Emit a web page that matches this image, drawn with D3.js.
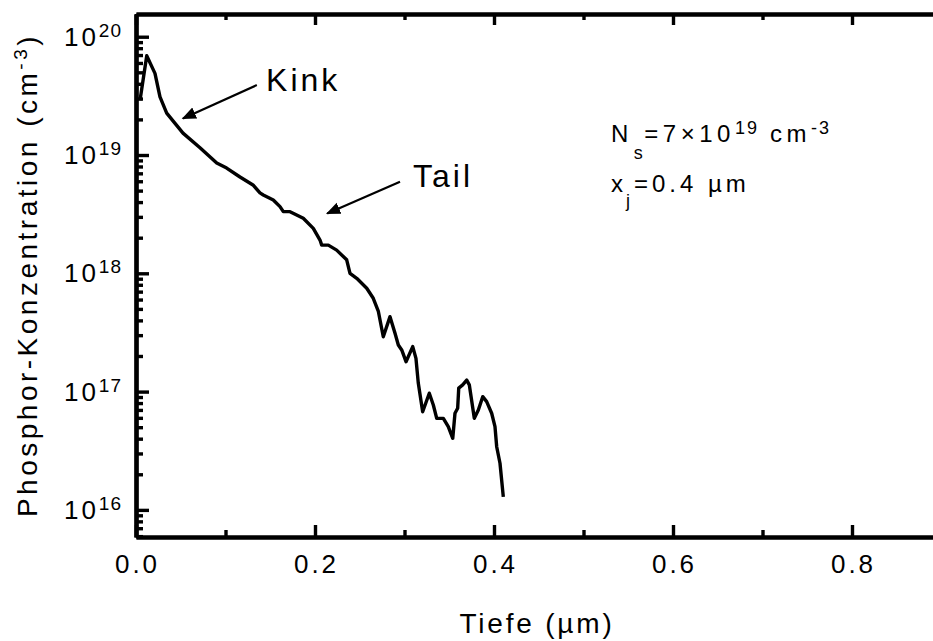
<!DOCTYPE html>
<html>
<head>
<meta charset="utf-8">
<script src="https://cdn.jsdelivr.net/npm/d3@7"></script>
<style>
    body { margin: 0; background: #fff; }
    svg { display: block; font-family: "Liberation Sans", Arial, sans-serif; }
</style>
</head>
<body>
<svg id="chart"></svg>
<script>
"use strict";

const width = 933;
const height = 641;

// plot frame (the right part of the frame runs past the picture)
const left = 136;
const right = 1031;
const top_y = 14;
const bottom = 537;

// Tiefe in µm
const depth = [
    0.0045, 0.012, 0.0212, 0.0268, 0.0343, 0.0525, 0.0715, 0.0902, 0.1013, 0.1162,
    0.1307, 0.1385, 0.1422, 0.1534, 0.1609, 0.1646, 0.1721, 0.1869, 0.1981, 0.2056,
    0.2075, 0.2149, 0.2242, 0.2354, 0.2391, 0.2466, 0.2578, 0.2651, 0.2707, 0.2763,
    0.2838, 0.2894, 0.2931, 0.2969, 0.3017, 0.3092, 0.3128, 0.3154, 0.3203, 0.3277,
    0.3322, 0.3360, 0.3434, 0.3489, 0.3539, 0.3564, 0.3594, 0.3606, 0.3650, 0.3695,
    0.3724, 0.3780, 0.3825, 0.3874, 0.3918, 0.3974, 0.4011, 0.4030, 0.4067, 0.4104
];

// Phosphor-Konzentration in cm^-3
const conc = [
    2.9e19, 6.9e19, 4.9e19, 3.1e19, 2.26e19, 1.53e19, 1.15e19, 8.55e18, 7.76e18, 6.52e18,
    5.58e18, 4.78e18, 4.59e18, 4.17e18, 3.66e18, 3.32e18, 3.32e18, 2.92e18, 2.40e18, 1.91e18,
    1.73e18, 1.73e18, 1.57e18, 1.30e18, 1.0e18, 9.08e17, 7.47e17, 6.15e17, 4.80e17, 2.91e17,
    4.30e17, 3.11e17, 2.48e17, 2.25e17, 1.79e17, 2.40e17, 1.91e17, 1.18e17, 6.76e16, 9.69e16,
    7.71e16, 5.94e16, 5.94e16, 5.05e16, 4.03e16, 6.56e16, 7.23e16, 1.07e17, 1.14e17, 1.25e17,
    1.14e17, 5.94e16, 6.98e16, 9.06e16, 8.22e16, 6.56e16, 5.05e16, 3.42e16, 2.48e16, 1.29e16
];

const x_ticks = [0.0, 0.2, 0.4, 0.6, 0.8, 1.0];
const x_labels = [0.0, 0.2, 0.4, 0.6, 0.8];
const x_minor = [0.1, 0.3, 0.5, 0.7, 0.9];
const y_exponents = [16, 17, 18, 19, 20];
const y_mults = [2, 3, 4, 5, 6, 7, 8, 9];

const x_domain = [0, 1];
const y_domain = [5.9e15, 1.556e20];

// annotations, in data units
const arrows = [
    { from: [0.135, 3.9e19], to: [0.0525, 2.04e19] },
    { from: [0.295, 5.95e18], to: [0.2137, 3.21e18] }
];
const labels = [
    { text: "Kink", at: [0.1453, 3.48e19] },
    { text: "Tail", at: [0.3095, 5.4e18] }
];

function genChart() {
    const x_scale = d3.scaleLinear()
        .domain(x_domain)
        .range([left, right]);

    const y_scale = d3.scaleLog()
        .domain(y_domain)
        .range([bottom, top_y]);

    const svg = d3.select("#chart")
        .attr("width", width)
        .attr("height", height);

    svg.append("defs").append("marker")
        .attr("id", "head")
        .attr("viewBox", "0 0 10 10")
        .attr("refX", 9)
        .attr("refY", 5)
        .attr("markerWidth", 6.5)
        .attr("markerHeight", 6.5)
        .attr("markerUnits", "strokeWidth")
        .attr("orient", "auto")
        .append("path")
        .attr("d", "M0,0.8 L10,5 L0,9.2 Z")
        .attr("fill", "#000");

    // curve
    const line = d3.line()
        .x((d, i) => x_scale(depth[i]))
        .y((d, i) => y_scale(conc[i]));

    svg.append("path")
        .datum(conc)
        .attr("d", line)
        .attr("fill", "none")
        .attr("stroke", "#000")
        .attr("stroke-width", 3.4)
        .attr("stroke-linejoin", "round");

    // axes, ticks point into the plot
    const styleAxis = g => {
        g.selectAll("path").attr("stroke-width", 4.2).attr("stroke", "#000");
        g.selectAll("line").attr("stroke-width", 3.4).attr("stroke", "#000");
        g.selectAll("text").remove();
    };

    // minor ticks of the log axis: 2..9 times each decade inside the domain
    const y_minor = [];
    for (let e = 15; e <= 20; e++) {
        y_mults.forEach(m => {
            const v = m * Math.pow(10, e);
            if (v >= y_domain[0] && v <= y_domain[1]) y_minor.push(v);
        });
    }
    const y_major = y_exponents.map(e => Math.pow(10, e));

    svg.append("g")
        .attr("transform", `translate(${left}, 0)`)
        .call(d3.axisLeft(y_scale).tickValues(y_minor).tickSize(-7).tickSizeOuter(0))
        .call(styleAxis);
    svg.append("g")
        .attr("transform", `translate(${left}, 0)`)
        .call(d3.axisLeft(y_scale).tickValues(y_major).tickSize(-13).tickSizeOuter(0))
        .call(styleAxis);

    svg.append("g")
        .attr("transform", `translate(0, ${bottom})`)
        .call(d3.axisBottom(x_scale).tickValues(x_minor).tickSize(-7).tickSizeOuter(0))
        .call(styleAxis);
    svg.append("g")
        .attr("transform", `translate(0, ${bottom})`)
        .call(d3.axisBottom(x_scale).tickValues(x_ticks).tickSize(-12).tickSizeOuter(0))
        .call(styleAxis);

    svg.append("g")
        .attr("transform", `translate(0, ${top_y})`)
        .call(d3.axisTop(x_scale).tickValues(x_minor).tickSize(-6).tickSizeOuter(0))
        .call(styleAxis);
    svg.append("g")
        .attr("transform", `translate(0, ${top_y})`)
        .call(d3.axisTop(x_scale).tickValues(x_ticks).tickSize(-11).tickSizeOuter(0))
        .call(styleAxis);

    // x tick labels
    svg.append("g")
        .selectAll("text")
        .data(x_labels)
        .enter()
        .append("text")
        .attr("x", d => x_scale(d) + 1.5)
        .attr("y", bottom + 36)
        .attr("text-anchor", "middle")
        .attr("font-size", 26)
        .attr("letter-spacing", 3)
        .text(d => d.toFixed(1));

    // y tick labels 10^n
    const ylab = svg.append("g")
        .selectAll("text")
        .data(y_exponents)
        .enter()
        .append("text")
        .attr("x", left - 14)
        .attr("y", d => y_scale(Math.pow(10, d)) + 9)
        .attr("text-anchor", "end")
        .attr("font-size", 26)
        .attr("letter-spacing", 3);
    ylab.append("tspan").text("10");
    ylab.append("tspan")
        .attr("font-size", 19)
        .attr("dy", -9)
        .attr("letter-spacing", 1)
        .text(d => d);

    // axis titles
    svg.append("text")
        .attr("x", 537)
        .attr("y", 633)
        .attr("text-anchor", "middle")
        .attr("font-size", 28)
        .attr("letter-spacing", 2.8)
        .text("Tiefe (µm)");

    const ytitle = svg.append("text")
        .attr("transform", "translate(37, 275) rotate(-90)")
        .attr("text-anchor", "middle")
        .attr("font-size", 28)
        .attr("letter-spacing", 3.5);
    ytitle.append("tspan").text("Phosphor-Konzentration (cm");
    ytitle.append("tspan").attr("font-size", 19).attr("dy", -10).text("-3");
    ytitle.append("tspan").attr("dy", 10).text(")");

    // arrows and labels
    svg.append("g")
        .selectAll("line")
        .data(arrows)
        .enter()
        .append("line")
        .attr("x1", d => x_scale(d.from[0]))
        .attr("y1", d => y_scale(d.from[1]))
        .attr("x2", d => x_scale(d.to[0]))
        .attr("y2", d => y_scale(d.to[1]))
        .attr("stroke", "#000")
        .attr("stroke-width", 2.2)
        .attr("marker-end", "url(#head)");

    svg.append("g")
        .selectAll("text")
        .data(labels)
        .enter()
        .append("text")
        .attr("x", d => x_scale(d.at[0]))
        .attr("y", d => y_scale(d.at[1]))
        .attr("font-size", 32)
        .attr("letter-spacing", 3)
        .text(d => d.text);

    // parameters
    const ns = svg.append("text")
        .attr("x", x_scale(0.5307))
        .attr("y", y_scale(1.29e19))
        .attr("font-size", 24)
        .attr("letter-spacing", 4.5);
    ns.append("tspan").text("N");
    ns.append("tspan").attr("dx", 1).attr("dy", 17).attr("font-size", 18).text("s");
    ns.append("tspan").attr("dx", -3).attr("dy", -17).text("=7×10");
    ns.append("tspan").attr("dy", -8).attr("font-size", 18).attr("letter-spacing", 2).text("19");
    ns.append("tspan").attr("dy", 8).text(" cm");
    ns.append("tspan").attr("dy", -8).attr("font-size", 18).attr("letter-spacing", 2).text("-3");

    const xj = svg.append("text")
        .attr("x", x_scale(0.5307))
        .attr("y", y_scale(4.9e18))
        .attr("font-size", 24)
        .attr("letter-spacing", 4);
    xj.append("tspan").text("x");
    xj.append("tspan").attr("dx", -1).attr("dy", 15).attr("font-size", 18).text("j");
    xj.append("tspan").attr("dx", 0).attr("dy", -15).text("=0.4 µm");
}

genChart();
</script>
</body>
</html>
